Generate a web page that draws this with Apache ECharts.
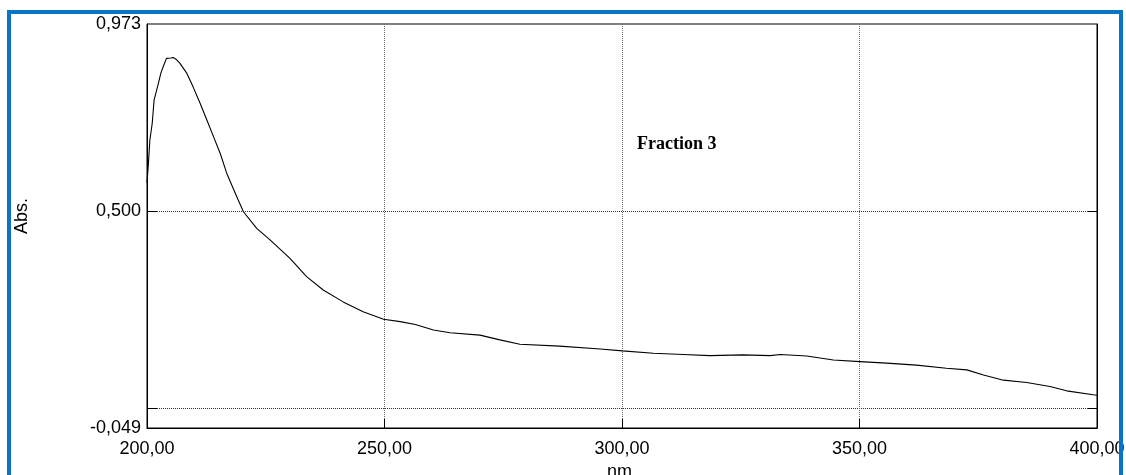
<!DOCTYPE html>
<html>
<head>
<meta charset="utf-8">
<script src="https://cdn.jsdelivr.net/npm/echarts@6/dist/echarts.min.js"></script>
<style>
html,body{margin:0;padding:0;background:#fff;}
#chart{width:1126px;height:475px;}
</style>
</head>
<body>
<div id="chart"></div>
<script>
// Wavelength (nm)
const wavelengths = [200.0,200.3,200.6,201.1,201.5,201.9,202.4,202.9,203.4,204.1,204.5,205.0,205.5,206.1,206.9,208.4,209.7,211.2,212.6,214.0,215.4,216.8,218.9,220.3,223.1,225.9,230.1,233.6,237.1,241.3,245.5,249.8,253.3,256.5,260.3,263.8,270.1,274.3,278.5,286.9,295.4,300.1,306.6,312.9,318.5,325.5,331.2,333.3,338.9,344.5,350.1,355.7,362.0,368.3,372.6,376.1,380.3,385.2,390.1,393.6,399.2,400.0];
// Absorbance
const absorbance = [0.571,0.621,0.679,0.722,0.781,0.785,0.823,0.848,0.865,0.886,0.889,0.887,0.888,0.884,0.874,0.848,0.814,0.772,0.730,0.688,0.646,0.595,0.536,0.498,0.456,0.427,0.380,0.334,0.300,0.270,0.245,0.226,0.220,0.213,0.199,0.192,0.186,0.174,0.163,0.158,0.151,0.146,0.140,0.137,0.134,0.136,0.134,0.137,0.133,0.123,0.119,0.115,0.110,0.102,0.098,0.085,0.072,0.066,0.056,0.045,0.035,0.034];
const xTicks = [200, 250, 300, 350, 400];
const yLabelValues = [-0.049, 0.5, 0.973];
const yGridValues = [0, 0.5];
const seriesName = 'Fraction 3';
const xName = 'nm.';
const yName = 'Abs.';

const fmt = (v, d) => v.toFixed(d).replace('.', ',');
const chart = echarts.init(document.getElementById('chart'), null, {renderer: 'canvas'});
const fontFam = '"Liberation Sans", Arial, sans-serif';

chart.setOption({
  animation: false,
  backgroundColor: '#fff',
  title: {
    text: seriesName,
    left: 637, top: 135, padding: 0,
    textStyle: {fontFamily: '"Liberation Serif", "Times New Roman", serif', fontWeight: 'bold', fontSize: 18, color: '#000'}
  },
  grid: {left: 147, right: 29, top: 24, bottom: 47, show: true, borderColor: '#000', borderWidth: 1, backgroundColor: 'transparent', containLabel: false, outerBoundsMode: 'none'},
  xAxis: {
    type: 'value', min: xTicks[0], max: xTicks[xTicks.length - 1], interval: 50,
    name: xName, nameLocation: 'middle', nameGap: 33,
    nameTextStyle: {fontFamily: fontFam, fontSize: 18, color: '#000'},
    axisLine: {onZero: false, lineStyle: {color: '#000', width: 1}},
    axisTick: {inside: true, length: 9, lineStyle: {color: '#000'}},
    axisLabel: {fontFamily: fontFam, fontSize: 18, color: '#000', margin: 12, formatter: v => fmt(v, 2)},
    splitLine: {show: true, lineStyle: {type: 'dotted', color: '#666', width: 1}}
  },
  yAxis: [{
    type: 'value', min: yLabelValues[0], max: yLabelValues[2],
    axisLine: {show: true, onZero: false, lineStyle: {color: '#000', width: 1}},
    axisTick: {show: true, inside: true, length: 10, customValues: yGridValues, lineStyle: {color: '#000'}},
    axisLabel: {fontFamily: fontFam, fontSize: 18, color: '#000', margin: 6, customValues: yLabelValues, formatter: v => fmt(v, 3)},
    splitLine: {show: true, lineStyle: {type: 'dotted', color: '#333', width: 1}}
  }, {
    type: 'value', position: 'right', min: yLabelValues[0], max: yLabelValues[2],
    axisLine: {show: true, onZero: false, lineStyle: {color: '#000', width: 1}},
    axisTick: {show: true, inside: true, length: 9, customValues: yGridValues, lineStyle: {color: '#000'}},
    axisLabel: {show: false},
    splitLine: {show: false}
  }],
  graphic: [{
    type: 'rect', silent: true, z: 100,
    shape: {x: 9, y: 12, width: 1112, height: 520},
    style: {fill: 'none', stroke: '#0a74c6', lineWidth: 4}
  }, {
    type: 'text', silent: true, z: 100,
    left: 13, top: 198,
    rotation: Math.PI / 2,
    style: {text: yName, font: '18px "Liberation Sans", Arial, sans-serif', fill: '#000'}
  }],
  series: [{
    type: 'line', name: seriesName, yAxisIndex: 0,
    showSymbol: false, symbol: 'none', smooth: false,
    lineStyle: {color: '#000', width: 1.1},
    data: wavelengths.map((w, i) => [w, absorbance[i]])
  }]
});
</script>
</body>
</html>
